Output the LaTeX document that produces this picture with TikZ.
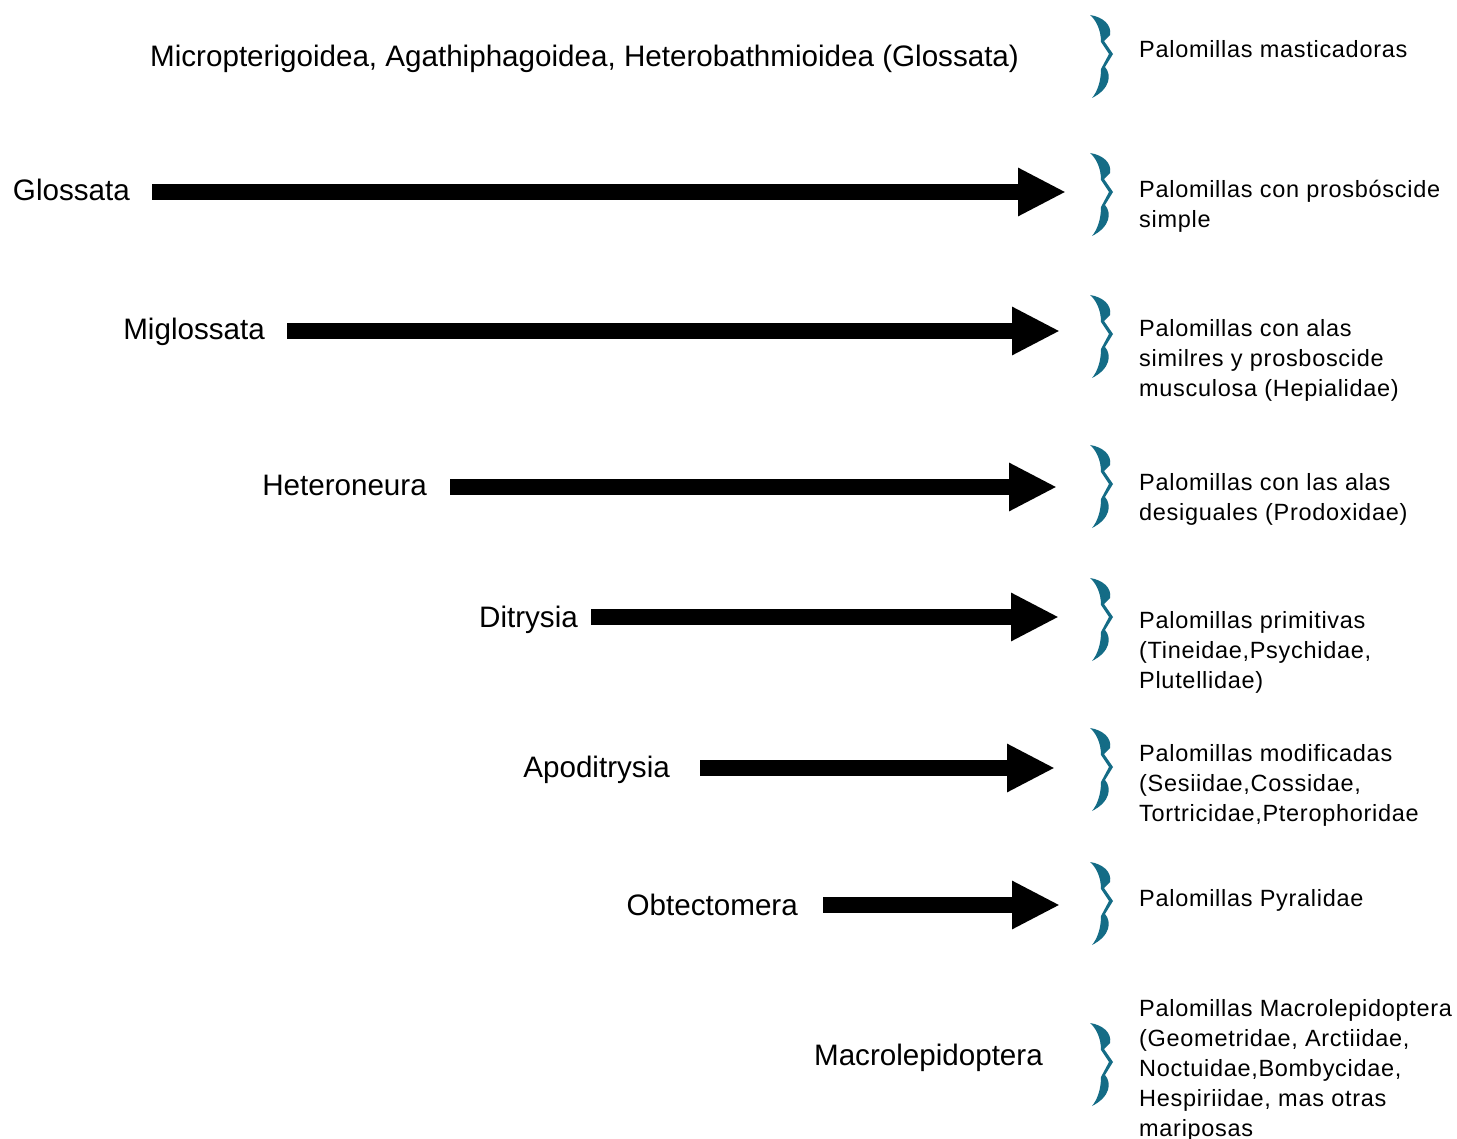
\documentclass[tikz,border=0pt]{standalone}
\usepackage{fontspec}
\setmainfont{Liberation Sans}
\newfontfamily\notefont[LetterSpace=3]{Liberation Sans}
\usetikzlibrary{arrows.meta}
\definecolor{braceteal}{RGB}{20,108,134}
\tikzset{
  x=1pt, y=-1pt,
  taxon/.style={anchor=base east, inner sep=0pt, font=\fontsize{29.6}{34}\selectfont},
  % base anchor of a multi-line note sits on its last line
  note/.style={anchor=base west, inner sep=0pt, align=left,
               font=\notefont\fontsize{23.5}{30}\selectfont},
  bigarrow/.style={line width=15.5pt, black,
                   -{Triangle[length=48pt,width=45pt]}},
  % curly bracket: two crescent ends joined by a thin zigzag
  brace/.pic={
    \fill[braceteal] (-10,-41) .. controls (3,-39) and (12,-31) .. (10,-21)
      -- (4,-15) -- (13,-2) -- (5,11)
      .. controls (12,19) and (10,33) .. (-8,42)
      .. controls (-3,36) and (1,26) .. (1,13)
      -- (9,-2) -- (1,-14)
      .. controls (1,-26) and (-4,-36) .. cycle;
  }
}
\begin{document}
\begin{tikzpicture}
\useasboundingbox[fill=white] (0,0) rectangle (1457,1139);

% heading row
\node[anchor=base west, inner sep=0pt, font=\fontsize{29.6}{34}\selectfont] (head)
  at (150,67) {Micropterigoidea, Agathiphagoidea, Heterobathmioidea (Glossata)};

% clade labels
\node[taxon] (gl) at (130,201) {Glossata};
\node[taxon] (mi) at (265,340) {Miglossata};
\node[taxon] (he) at (427,496) {Heteroneura};
\node[taxon] (di) at (578,627) {Ditrysia};
\node[taxon] (ap) at (670,777) {Apoditrysia};
\node[taxon] (ob) at (798,915) {Obtectomera};
\node[taxon] (ma) at (1043,1065) {Macrolepidoptera};

% arrow ends
\coordinate (gl-s) at (152,192);  \coordinate (gl-e) at (1066,192);
\coordinate (mi-s) at (287,331);  \coordinate (mi-e) at (1060,331);
\coordinate (he-s) at (450,487);  \coordinate (he-e) at (1057,487);
\coordinate (di-s) at (591,617);  \coordinate (di-e) at (1059,617);
\coordinate (ap-s) at (700,768);  \coordinate (ap-e) at (1055,768);
\coordinate (ob-s) at (823,905);  \coordinate (ob-e) at (1060,905);

\draw[bigarrow] (gl-s) -- (gl-e);
\draw[bigarrow] (mi-s) -- (mi-e);
\draw[bigarrow] (he-s) -- (he-e);
\draw[bigarrow] (di-s) -- (di-e);
\draw[bigarrow] (ap-s) -- (ap-e);
\draw[bigarrow] (ob-s) -- (ob-e);

% braces
\pic at (1100,56) {brace};
\pic at (1100,194) {brace};
\pic at (1100,336) {brace};
\pic at (1100,486) {brace};
\pic at (1100,619) {brace};
\pic at (1100,769) {brace};
\pic at (1100,903) {brace};
\pic at (1100,1064) {brace};

% descriptions
\node[note] (n1) at (1139,58) {Palomillas masticadoras};
\node[note] (n2) at (1139,228) {Palomillas con prosbóscide\\simple};
\node[note] (n3) at (1139,397) {Palomillas con alas\\similres y prosboscide\\musculosa (Hepialidae)};
\node[note] (n4) at (1139,520) {Palomillas con las alas\\desiguales (Prodoxidae)};
\node[note] (n5) at (1139,688) {Palomillas primitivas\\(Tineidae,Psychidae,\\Plutellidae)};
\node[note] (n6) at (1139,821) {Palomillas modificadas\\(Sesiidae,Cossidae,\\Tortricidae,Pterophoridae};
\node[note] (n7) at (1139,906) {Palomillas Pyralidae};
\node[note] (n8) at (1139,1136) {Palomillas Macrolepidoptera\\(Geometridae, Arctiidae,\\Noctuidae,Bombycidae,\\Hespiriidae, mas otras\\mariposas};
\end{tikzpicture}
\end{document}
